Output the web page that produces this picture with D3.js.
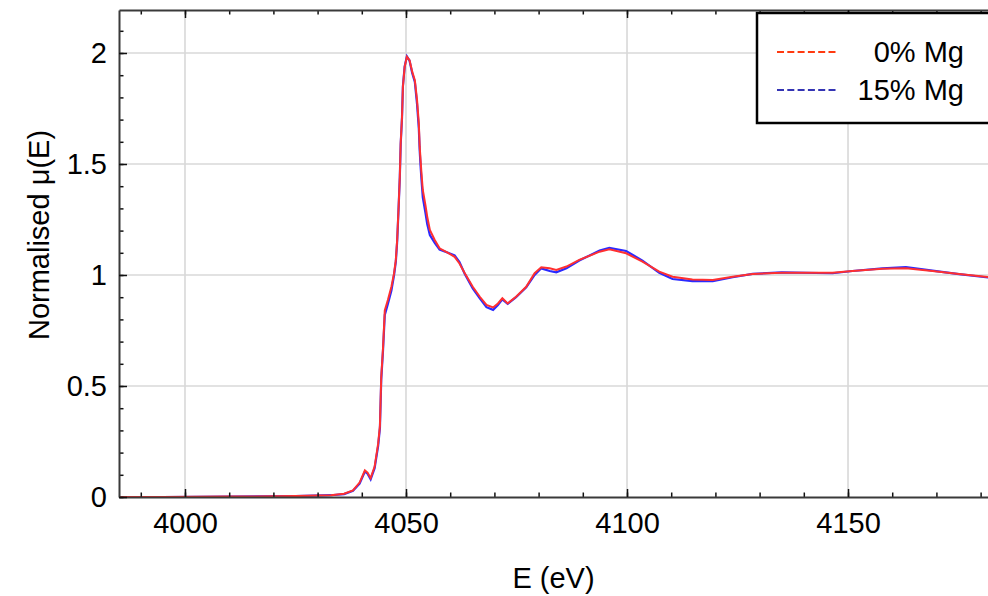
<!DOCTYPE html>
<html>
<head>
<meta charset="utf-8">
<script src="https://cdn.jsdelivr.net/npm/d3@7"></script>
<style>
  body { margin: 0; background: #fff; }
  svg { display: block; font-family: "Liberation Sans", Arial, sans-serif; }
</style>
</head>
<body>
<div id="wrapper"></div>
<script>
// data (energy in eV, normalised mu)
var energy = [3985, 3995, 4010, 4025, 4033, 4036, 4038, 4039.5, 4040.7, 4041.3, 4042, 4042.9,
  4043.7, 4044.1, 4044.4, 4044.8, 4045.2, 4045.9, 4046.7, 4047.3, 4047.7, 4048.0, 4048.3,
  4048.6, 4048.8, 4049.1, 4049.3, 4049.7, 4050.2, 4050.8, 4051.4, 4052.0, 4052.5, 4052.9,
  4053.1, 4053.3, 4053.5, 4053.8, 4054.4, 4054.8, 4055.4, 4056.5, 4057.6, 4059.5, 4061.0,
  4062.1, 4063.3, 4065.1, 4066.7, 4068.2, 4069.7, 4070.8, 4071.8, 4073.0, 4074.9, 4077.2,
  4079.1, 4080.6, 4082.5, 4084.0, 4086.3, 4089.2, 4093.8, 4096.0, 4099.8, 4103.5, 4107.3,
  4110.3, 4114.8, 4119.4, 4123.9, 4128.4, 4135, 4146.5, 4151.0, 4157.8, 4163.1, 4169.1,
  4175.1, 4182];

var mu0 = [0, 0, 0.002, 0.004, 0.008, 0.015, 0.03, 0.065, 0.12, 0.11, 0.085, 0.137,
  0.24, 0.32, 0.54, 0.67, 0.84, 0.887, 0.947, 1.008, 1.068, 1.158, 1.293,
  1.443, 1.593, 1.713, 1.848, 1.938, 1.983, 1.968, 1.916, 1.878, 1.788, 1.683,
  1.578, 1.518, 1.458, 1.383, 1.315, 1.263, 1.203, 1.158, 1.12, 1.100, 1.082,
  1.052, 1.008, 0.947, 0.902, 0.865, 0.854, 0.872, 0.895, 0.872, 0.902, 0.947,
  1.008, 1.035, 1.030, 1.023, 1.038, 1.068, 1.105, 1.116, 1.098, 1.060, 1.015,
  0.992, 0.980, 0.977, 0.992, 1.005, 1.010, 1.010, 1.018, 1.028, 1.030, 1.018,
  1.004, 0.99];

var mu15 = [null, 0, 0.002, 0.004, 0.008, 0.013, 0.028, 0.06, 0.115, 0.105, 0.08, 0.13,
  0.23, 0.31, 0.53, 0.66, 0.82, 0.87, 0.93, 1.0, 1.06, 1.15, 1.29,
  1.44, 1.59, 1.71, 1.85, 1.94, 1.985, 1.965, 1.91, 1.87, 1.77, 1.66,
  1.56, 1.49, 1.43, 1.35, 1.28, 1.23, 1.18, 1.145, 1.115, 1.10, 1.088,
  1.058, 1.005, 0.94, 0.895, 0.855, 0.843, 0.865, 0.89, 0.87, 0.90, 0.945,
  1.0, 1.03, 1.018, 1.012, 1.03, 1.065, 1.11, 1.122, 1.108, 1.065, 1.01,
  0.982, 0.972, 0.972, 0.99, 1.005, 1.012, 1.008, 1.018, 1.03, 1.036, 1.02,
  1.004, 0.988];

var seriesNames = ["0% Mg", "15% Mg"];
var xTicks = [4000, 4050, 4100, 4150];
var yTicks = [0, 0.5, 1, 1.5, 2];
var yTickLabels = ["0", "0.5", "1", "1.5", "2"];

var W = 988, H = 596;
var margin = {top: 10, right: 0, bottom: 99, left: 119};

var svg = d3.select("#wrapper").append("svg")
  .attr("width", W).attr("height", H);

var x = d3.scaleLinear().domain([3985.07, 4181.67]).range([margin.left, W - margin.right]);
var y = d3.scaleLinear().domain([0, 2.1937]).range([H - margin.bottom, margin.top]);

svg.append("defs").append("clipPath").attr("id", "clip")
  .append("rect")
  .attr("x", margin.left).attr("y", margin.top)
  .attr("width", W - margin.left - margin.right)
  .attr("height", H - margin.top - margin.bottom);

// grid lines
var grid = svg.append("g").attr("stroke", "#d8d8d8").attr("stroke-width", 1.6);
grid.selectAll(".gx").data(xTicks).enter().append("line")
  .attr("x1", d => x(d)).attr("x2", d => x(d))
  .attr("y1", y.range()[1]).attr("y2", y.range()[0]);
grid.selectAll(".gy").data(yTicks.filter(d => d > 0)).enter().append("line")
  .attr("x1", x.range()[0]).attr("x2", x.range()[1])
  .attr("y1", d => y(d)).attr("y2", d => y(d));

// curves: 15% underneath, 0% on top
var pts15 = energy.map((e, i) => [e, mu15[i]]);
var pts0 = energy.map((e, i) => [e, mu0[i]]);
var line = d3.line()
  .defined(d => d[1] != null)
  .x(d => x(d[0])).y(d => y(d[1]));

var plot = svg.append("g").attr("clip-path", "url(#clip)");
plot.append("path").datum(pts15)
  .attr("d", line).attr("fill", "none")
  .attr("stroke", "#2a2aff").attr("stroke-width", 2.2);
plot.append("path").datum(pts0)
  .attr("d", line).attr("fill", "none")
  .attr("stroke", "#ff3030").attr("stroke-width", 2);

// frame with inward ticks
var minorX = d3.range(3990, 4181, 10);
var minorY = d3.range(0, 2.2, 0.1).map(d => +d.toFixed(1));
var axisColor = "#3a3a3a";

function styleAxis(g) {
  g.selectAll(".domain").attr("stroke", axisColor).attr("stroke-width", 2);
  g.selectAll(".tick line").attr("stroke", "#111").attr("stroke-width", 1.5);
  g.selectAll("text").attr("fill", "#000").attr("font-size", 29)
    .attr("font-family", "Liberation Sans, Arial, sans-serif");
}

var bottomMinor = svg.append("g").attr("transform", "translate(0," + y.range()[0] + ")");
bottomMinor.call(d3.axisBottom(x).tickValues(minorX).tickSize(-4.5).tickFormat("").tickSizeOuter(0));
bottomMinor.selectAll(".domain").remove();
var bottomMajor = svg.append("g").attr("transform", "translate(0," + y.range()[0] + ")")
  .call(d3.axisBottom(x).tickValues(xTicks).tickSize(-8).tickPadding(15)
    .tickFormat(d3.format("d")).tickSizeOuter(0));
styleAxis(bottomMinor); styleAxis(bottomMajor);

var topMinor = svg.append("g").attr("transform", "translate(0," + y.range()[1] + ")");
topMinor.call(d3.axisTop(x).tickValues(minorX).tickSize(-4.5).tickFormat("").tickSizeOuter(0));
topMinor.selectAll(".domain").remove();
var topMajor = svg.append("g").attr("transform", "translate(0," + y.range()[1] + ")")
  .call(d3.axisTop(x).tickValues(xTicks).tickSize(-8).tickFormat("").tickSizeOuter(0));
styleAxis(topMinor); styleAxis(topMajor);

var leftMinor = svg.append("g").attr("transform", "translate(" + x.range()[0] + ",0)");
leftMinor.call(d3.axisLeft(y).tickValues(minorY).tickSize(-4.5).tickFormat("").tickSizeOuter(0));
leftMinor.selectAll(".domain").remove();
var leftMajor = svg.append("g").attr("transform", "translate(" + x.range()[0] + ",0)")
  .call(d3.axisLeft(y).tickValues(yTicks).tickSize(-8).tickPadding(12)
    .tickFormat((d, i) => yTickLabels[i]).tickSizeOuter(0));
styleAxis(leftMinor); styleAxis(leftMajor);

// axis titles
svg.append("text")
  .attr("x", (x.range()[0] + x.range()[1]) / 2).attr("y", 588)
  .attr("text-anchor", "middle").attr("font-size", 29)
  .text("E (eV)");
svg.append("text")
  .attr("transform", "translate(49,235) rotate(-90)")
  .attr("text-anchor", "middle").attr("font-size", 29)
  .text("Normalised \u03bc(E)");

// legend
var legend = svg.append("g");
legend.append("rect")
  .attr("x", 757).attr("y", 13).attr("width", 240).attr("height", 110)
  .attr("fill", "#fff").attr("stroke", "#000").attr("stroke-width", 2.5);
var legendColors = ["#ff3a10", "#3434b4"];
var legendY = [52, 90];
seriesNames.forEach(function(name, i) {
  legend.append("line")
    .attr("x1", 777).attr("x2", 838)
    .attr("y1", legendY[i]).attr("y2", legendY[i])
    .attr("stroke", legendColors[i]).attr("stroke-width", 2)
    .attr("stroke-dasharray", "7,3.3");
  legend.append("text")
    .attr("x", 964).attr("y", legendY[i] + 10)
    .attr("text-anchor", "end").attr("font-size", 29)
    .text(name);
});
</script>
</body>
</html>
